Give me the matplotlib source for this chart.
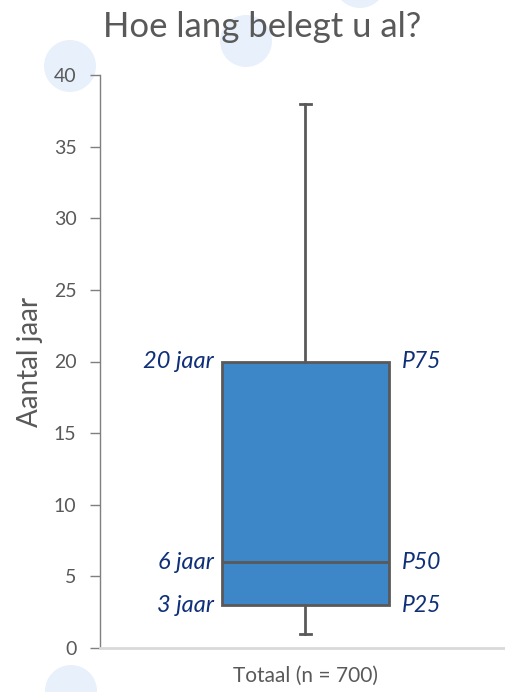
import matplotlib
matplotlib.use("Agg")
import matplotlib.pyplot as plt
from matplotlib.patches import Circle

# ---- data ----
category = "Totaal (n = 700)"
whisker_low = 1
p25 = 3
p50 = 6
p75 = 20
whisker_high = 38
value_labels = ["3 jaar", "6 jaar", "20 jaar"]
pct_labels = ["P25", "P50", "P75"]
y_ticks = [0, 5, 10, 15, 20, 25, 30, 35, 40]

FONT = ["Lato", "DejaVu Sans"]
GRAY = "#595959"
NAVY = "#0f2f78"
BOX = "#3d86c8"

fig = plt.figure(figsize=(5.06, 6.92), dpi=100)

# decorative background circles (pixel space)
bg = fig.add_axes([0, 0, 1, 1], zorder=-1)
bg.set_xlim(0, 506)
bg.set_ylim(692, 0)
bg.axis("off")
for cx, cy in [(70, 66), (246, 41), (360, -18), (71, 691), (248, 718)]:
    bg.add_patch(Circle((cx, cy), 26, color="#e8f0fc", lw=0))

ax = fig.add_axes([100/506, 1-648/692, 406/506, (648-75)/692])
ax.patch.set_alpha(0)

stats = [dict(whislo=whisker_low, q1=p25, med=p50, q3=p75, whishi=whisker_high, fliers=[], label=category)]
bw = 0.812
ax.bxp(stats, positions=[1], widths=bw, patch_artist=True, showfliers=False,
       boxprops=dict(facecolor=BOX, edgecolor=GRAY, linewidth=2),
       medianprops=dict(color=GRAY, linewidth=2),
       whiskerprops=dict(color=GRAY, linewidth=2),
       capprops=dict(color=GRAY, linewidth=2),
       capwidths=0.058)

ax.set_xlim(0, 1.976)
ax.set_ylim(0, 40)
ax.set_yticks(y_ticks)
ax.set_yticklabels([str(t) for t in y_ticks], family=FONT, fontsize=14, color=GRAY)
ax.set_xticks([1])
ax.set_xticklabels([category], family=FONT, fontsize=15, color=GRAY)
ax.tick_params(axis="y", length=7, width=1, color="#7f7f7f", pad=10)
ax.tick_params(axis="x", length=0, pad=13)

for s in ["top", "right"]:
    ax.spines[s].set_visible(False)
ax.spines["left"].set_color("#7f7f7f")
ax.spines["left"].set_linewidth(1)
ax.spines["bottom"].set_color("#d9d9d9")
ax.spines["bottom"].set_linewidth(2)

left = 1 - bw/2
right = 1 + bw/2
for val, vl, pl in zip([p25, p50, p75], value_labels, pct_labels):
    ax.annotate(vl, (left, val), xytext=(-6, 0), textcoords="offset points",
                ha="right", va="center", family=FONT, style="italic",
                fontsize=17, color=NAVY)
    ax.annotate(pl, (right, val), xytext=(9, 0), textcoords="offset points",
                ha="left", va="center", family=FONT, style="italic",
                fontsize=16.5, color=NAVY)

ax.set_ylabel("Aantal jaar", family=FONT, fontsize=20, color=GRAY, labelpad=8)
fig.text(262/506, 1-27/692, "Hoe lang belegt u al?", ha="center", va="center",
         family=FONT, fontsize=25, color=GRAY)

fig.savefig("out.png", dpi=100)
